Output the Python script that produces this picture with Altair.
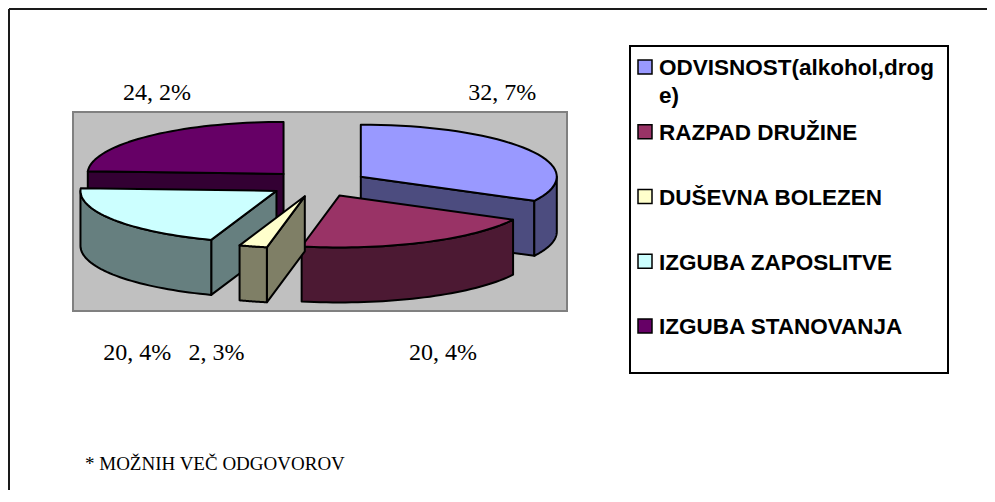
import math
import altair as alt
import pandas as pd

# ---------------- data ----------------
categories = ["ODVISNOST(alkohol,droge)", "RAZPAD DRUŽINE", "DUŠEVNA BOLEZEN",
              "IZGUBA ZAPOSLITVE", "IZGUBA STANOVANJA"]
values = [32.7, 20.4, 2.3, 20.4, 24.2]
footnote = "* MOŽNIH VEČ ODGOVOROV"

# ---------------- styles ----------------
top_colors = ["#9999FF", "#993366", "#FFFFCC", "#CCFFFF", "#660066"]
side_colors = ["#4C4C7F", "#4C1933", "#7F7F66", "#667F7F", "#330033"]

# ---------------- layout (page pixels) ----------------
X0, X1 = 8, 987          # chart extent on page
Y0, Y1 = 8, 490
CX, CY = 318, 183.5      # pie centre (top face)
RX, RY = 196, 52         # ellipse radii of top face
DEPTH = 55               # pie thickness
EXPLODE = 50             # explosion distance
LABEL_SIDE = 64.5        # label horizontal offset (per side)
LABEL_SPREAD = 140       # label horizontal offset (per cos of mid angle)
LABEL_TOP_GAP = 31.5
LABEL_BOTTOM_GAP = 69.5
K = RY / RX


def rim(px, py, th_deg, dz=0.0):
    t = math.radians(th_deg)
    return (px + RX * math.cos(t), py - RY * math.sin(t) + dz)


def arc(px, py, a, b, dz=0.0, n=40):
    return [rim(px, py, a + (b - a) * j / n, dz) for j in range(n + 1)]


total = sum(values)
slices = []
start = 90.0
for idx, v in enumerate(values):
    sweep = v / total * 360.0
    ts, te = start, start - sweep
    mid = (ts + te) / 2
    m = math.radians(mid)
    px = CX + EXPLODE * math.cos(m)
    py = CY - EXPLODE * K * math.sin(m)
    faces = []
    if math.cos(math.radians(ts)) < -1e-6:
        faces.append(("side", [(px, py), rim(px, py, ts), rim(px, py, ts, DEPTH), (px, py + DEPTH)]))
    if math.cos(math.radians(te)) > 1e-6:
        faces.append(("side", [(px, py), rim(px, py, te), rim(px, py, te, DEPTH), (px, py + DEPTH)]))
    for k in range(-2, 2):
        lo, hi = -180 + 360 * k, 0 + 360 * k
        a, b = min(ts, hi), max(te, lo)
        if a - b > 1e-6:
            pts = arc(px, py, a, b) + arc(px, py, b, a, DEPTH)
            faces.append(("side", pts))
    faces.append(("top", [(px, py)] + arc(px, py, ts, te)))
    slices.append(dict(idx=idx, mid=mid, faces=faces, px=px, py=py))
    start = te

rows = []
order = sorted(slices, key=lambda s: -math.sin(math.radians(s["mid"])))
fid = 0
for s in order:
    for kind, pts in s["faces"]:
        for j, (x, y) in enumerate(pts):
            rows.append(dict(face=f"f{fid:03d}", i=j, x=x, y=y, ck=f"{kind}{s['idx']}"))
        fid += 1
faces_df = pd.DataFrame(rows)

color_domain = [f"top{i}" for i in range(5)] + [f"side{i}" for i in range(5)]
color_range = top_colors + side_colors
color_scale = alt.Scale(domain=color_domain, range=color_range)

xs = alt.Scale(domain=[X0, X1], nice=False, zero=False)
ys = alt.Scale(domain=[Y0, Y1], nice=False, zero=False, reverse=True)


def X(f):
    return alt.X(f, type="quantitative", scale=xs, axis=None)


def Y(f):
    return alt.Y(f, type="quantitative", scale=ys, axis=None)


lab_rows = []
for s in slices:
    m = math.radians(s["mid"])
    c = math.cos(m)
    lx = CX + math.copysign(LABEL_SIDE, c) + LABEL_SPREAD * c
    if math.sin(m) > 0:
        ly = CY - RY - LABEL_TOP_GAP
    else:
        ly = CY + RY + DEPTH + LABEL_BOTTOM_GAP
    txt = f"{values[s['idx']]:.1f}".replace(".", ", ") + "%"
    lab_rows.append(dict(x=lx, y=ly, text=txt))
labels_df = pd.DataFrame(lab_rows)

LEG_X0, LEG_X1, LEG_Y0, LEG_Y1 = 630, 948, 46, 373
LEG_FIRST, LEG_STEP = 67, 64.75
leg_rows = []
for i, c in enumerate(categories):
    name = c if len(c) <= 22 else c[:22] + "\n" + c[22:]
    yc = LEG_FIRST + LEG_STEP * i
    leg_rows.append(dict(sx=645, sy=yc, tx=659, ty=yc + 8.3, text=name, ck=f"top{i}"))
leg_df = pd.DataFrame(leg_rows)

frame_df = pd.DataFrame([
    dict(x=X0 + 1, x2=X1, y=Y0 + 1, y2=Y0 + 1),
    dict(x=X0 + 1, x2=X0 + 1, y=Y0 + 1, y2=Y1),
])
frame = alt.Chart(frame_df).mark_rule(color="#1a1a1a", strokeWidth=2).encode(
    x=X("x"), x2="x2", y=Y("y"), y2="y2"
)

plot_bg = alt.Chart(pd.DataFrame([dict(x=73, x2=567, y=112, y2=311)])).mark_rect(
    fill="#C0C0C0", stroke="#808080", strokeWidth=2
).encode(x=X("x"), x2="x2", y=Y("y"), y2="y2")

pie = alt.Chart(faces_df).mark_line(
    filled=True, interpolate="linear-closed", stroke="black", strokeWidth=2, strokeJoin="round"
).encode(
    x=X("x"), y=Y("y"), detail="face:N", order="i:Q",
    color=alt.Color("ck:N", scale=color_scale, legend=None),
)

pct = alt.Chart(labels_df).mark_text(
    font="Liberation Serif", fontSize=24, align="center", baseline="alphabetic", color="black"
).encode(x=X("x"), y=Y("y"), text="text:N")

leg_box = alt.Chart(pd.DataFrame([dict(x=LEG_X0, x2=LEG_X1, y=LEG_Y0, y2=LEG_Y1)])).mark_rect(
    fill="white", stroke="black", strokeWidth=2
).encode(x=X("x"), x2="x2", y=Y("y"), y2="y2")

leg_sq = alt.Chart(leg_df).mark_square(
    size=196, stroke="black", strokeWidth=1.5, opacity=1
).encode(x=X("sx"), y=Y("sy"), color=alt.Color("ck:N", scale=color_scale, legend=None))

leg_txt = alt.Chart(leg_df).mark_text(
    font="Liberation Sans", fontWeight="bold", fontSize=22.5, align="left",
    baseline="alphabetic", lineBreak="\n", lineHeight=27.5, color="black"
).encode(x=X("tx"), y=Y("ty"), text="text:N")

foot = alt.Chart(pd.DataFrame([dict(x=85, y=470, text=footnote)])).mark_text(
    font="Liberation Serif", fontSize=19, align="left", baseline="alphabetic", color="black"
).encode(x=X("x"), y=Y("y"), text="text:N")

chart = alt.layer(frame, plot_bg, pie, pct, leg_box, leg_sq, leg_txt, foot).properties(
    width=X1 - X0, height=Y1 - Y0, padding=0, autosize=alt.AutoSizeParams(type="none"),
    background="white",
).configure_view(stroke=None, strokeWidth=0)

chart.save("out.html", embed_options={"renderer": "svg", "actions": False})
